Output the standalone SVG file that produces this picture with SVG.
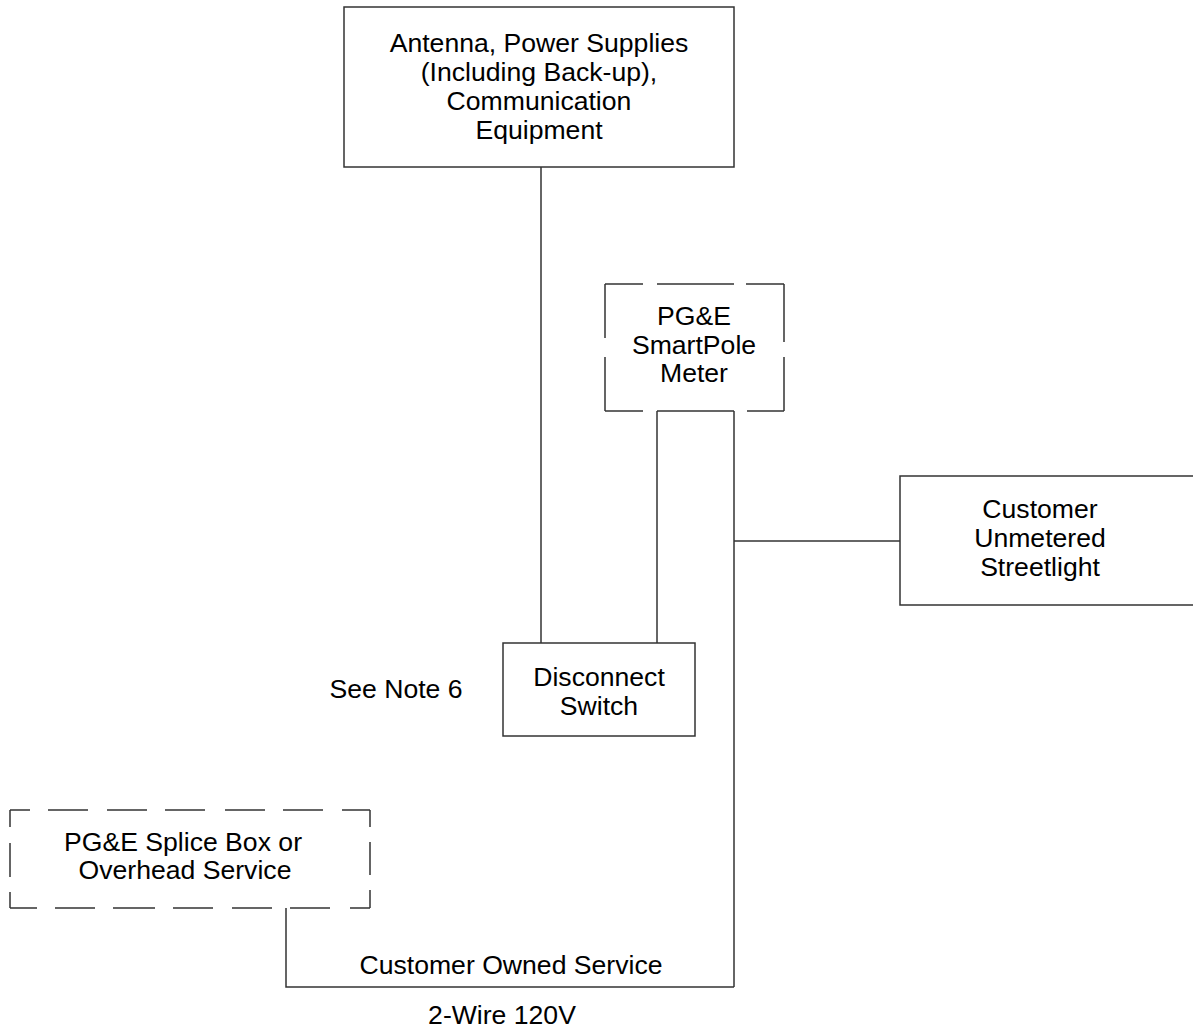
<svg xmlns="http://www.w3.org/2000/svg" width="1193" height="1029" viewBox="0 0 1193 1029">
<style>
.b{fill:none;stroke:#333;stroke-width:1.5}
.c{fill:none;stroke:#333;stroke-width:1.5}
text{font-family:"Liberation Sans",Arial,sans-serif;font-size:26.6px;fill:#000;text-anchor:middle}
</style>
<rect width="1193" height="1029" fill="#fff"/>
<g id="connectors">
<path class="c" d="M541,167V643"/>
<path class="c" d="M657,411V643"/>
<path class="c" d="M734,411V987"/>
<path class="c" d="M734,541H900"/>
<path class="c" d="M286,908V987H734"/>
</g>
<g id="node-equipment">
<rect class="b" x="344" y="7" width="390" height="160"/>
<text x="539" y="52">Antenna, Power Supplies</text>
<text x="539" y="81">(Including Back-up),</text>
<text x="539" y="110">Communication</text>
<text x="539" y="139">Equipment</text>
</g>
<g id="node-meter">
<path class="b" d="M605,284H643M657,284H734M746,284H784M605,411H643M657,411H734M747,411H784M605,284V338M605,357V411M784,284V342M784,357V411"/>
<text x="694" y="325">PG&amp;E</text>
<text x="694" y="354">SmartPole</text>
<text x="694" y="382">Meter</text>
</g>
<g id="node-streetlight">
<path class="b" d="M1193,476H900V605H1193"/>
<text x="1040" y="518">Customer</text>
<text x="1040" y="547">Unmetered</text>
<text x="1040" y="576">Streetlight</text>
</g>
<g id="node-switch">
<rect class="b" x="503" y="643" width="192" height="93"/>
<text x="599" y="686">Disconnect</text>
<text x="599" y="715">Switch</text>
</g>
<g id="node-splice">
<path class="b" d="M10,810H30M48,810H88M107,810H147M165,810H205M225,810H265M283,810H323M342,810H370M10,908H37M55,908H95M113,908H155M173,908H213M232,908H272M290,908H330M350,908H370M10,810V827M10,843V877M10,892V908M370,810V827M370,842V875M370,890V908"/>
<text x="183" y="851">PG&amp;E Splice Box or</text>
<text x="185" y="879">Overhead Service</text>
</g>
<g id="labels">
<text x="396" y="698">See Note 6</text>
<text x="511" y="974">Customer Owned Service</text>
<text x="502" y="1024">2-Wire 120V</text>
</g>
</svg>
